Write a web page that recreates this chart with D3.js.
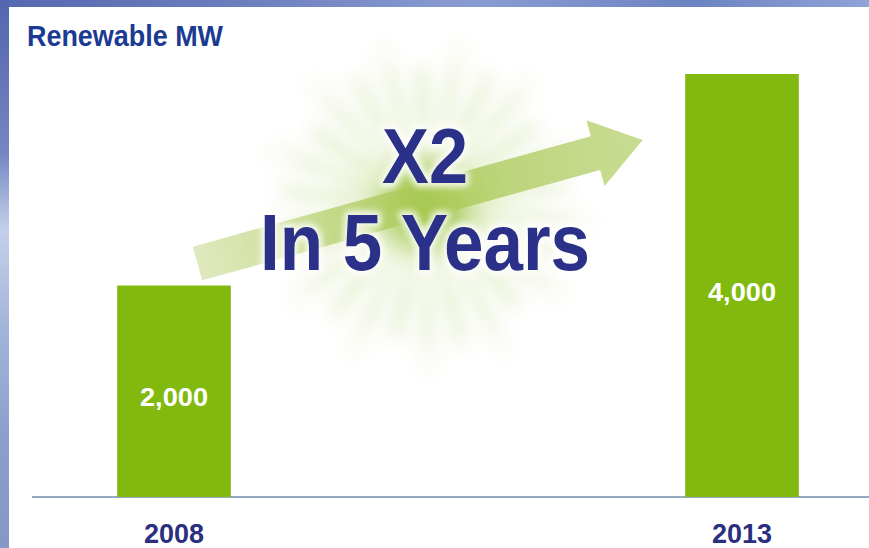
<!DOCTYPE html>
<html>
<head>
<meta charset="utf-8">
<script src="https://cdn.jsdelivr.net/npm/d3@7"></script>
<style>
  html, body { margin: 0; padding: 0; background: #fff; }
  svg { display: block; }
  text { font-family: "Liberation Sans", Arial, sans-serif; font-weight: bold; }
</style>
</head>
<body>
<svg id="chart" width="869" height="548"></svg>
<script>
// ---- data ----
const years = ["2008", "2013"];
const renewableMW = [2000, 4000];
const valueLabels = ["2,000", "4,000"];
const title = "Renewable MW";
const calloutLines = ["X2", "In 5 Years"];

const W = 869, H = 548;
const svg = d3.select("#chart");
const defs = svg.append("defs");

// ---- background gradients ----
const gTop = defs.append("linearGradient").attr("id", "gTop").attr("x1", "0").attr("x2", "1").attr("y1", "0").attr("y2", "0");
[[0, "#5668b0"], [0.3, "#6f80c0"], [0.55, "#8a9dd2"], [0.8, "#6c83c3"], [1, "#8ea4d6"]]
  .forEach(([o, c]) => gTop.append("stop").attr("offset", o).attr("stop-color", c));
const gLeft = defs.append("linearGradient").attr("id", "gLeft").attr("x1", "0").attr("x2", "0").attr("y1", "0").attr("y2", "1");
[[0, "#5365ad"], [0.28, "#7487c2"], [0.42, "#c4d0ea"], [0.6, "#a3b4da"], [0.8, "#8c9ecc"], [1, "#8597c8"]]
  .forEach(([o, c]) => gLeft.append("stop").attr("offset", o).attr("stop-color", c));

svg.append("rect").attr("x", 0).attr("y", 0).attr("width", W).attr("height", 7).attr("fill", "url(#gTop)");
svg.append("rect").attr("x", 0).attr("y", 0).attr("width", 9).attr("height", H).attr("fill", "url(#gLeft)");
svg.append("rect").attr("x", 9).attr("y", 7).attr("width", W - 9).attr("height", H - 7).attr("fill", "#ffffff");

// ---- scales ----
const x = d3.scaleBand().domain(years).range([32, 884]).paddingInner(0.8).paddingOuter(0.15);
const y = d3.scaleLinear().domain([0, 4000]).range([497, 74]);

// ---- starburst decoration ----
const cx = 425, cy = 205;
const rg = defs.append("radialGradient").attr("id", "rayGrad")
  .attr("gradientUnits", "userSpaceOnUse").attr("cx", cx).attr("cy", cy).attr("r", 195);
[[0, "#8cb92a", 0.9], [0.35, "#a9cc5a", 0.55], [0.7, "#d2e2ab", 0.25], [1, "#ffffff", 0]]
  .forEach(([o, c, a]) => rg.append("stop").attr("offset", o).attr("stop-color", c).attr("stop-opacity", a));
const blur = defs.append("filter").attr("id", "blurRays").attr("x", "-50%").attr("y", "-50%").attr("width", "200%").attr("height", "200%");
blur.append("feGaussianBlur").attr("stdDeviation", 8);
const nRays = 26;
const rayLen = [195, 150, 175, 140];
const rays = svg.append("g").attr("filter", "url(#blurRays)");
d3.range(nRays).forEach(i => {
  const a = (i / nRays) * 2 * Math.PI + 0.1;
  const hw = 0.085;
  const r = rayLen[i % rayLen.length];
  const p = d3.path();
  p.moveTo(cx + 8 * Math.cos(a + Math.PI / 2), cy + 8 * Math.sin(a + Math.PI / 2));
  p.lineTo(cx + r * Math.cos(a - hw), cy + r * Math.sin(a - hw));
  p.lineTo(cx + r * Math.cos(a + hw), cy + r * Math.sin(a + hw));
  p.lineTo(cx + 8 * Math.cos(a - Math.PI / 2), cy + 8 * Math.sin(a - Math.PI / 2));
  p.closePath();
  rays.append("path").attr("d", p.toString()).attr("fill", "url(#rayGrad)");
});
const glow = defs.append("radialGradient").attr("id", "glowGrad");
[[0, "#9cc443", 0.8], [0.5, "#bcd67c", 0.4], [1, "#ffffff", 0]]
  .forEach(([o, c, a]) => glow.append("stop").attr("offset", o).attr("stop-color", c).attr("stop-opacity", a));
svg.append("ellipse").attr("cx", cx).attr("cy", cy).attr("rx", 115).attr("ry", 95).attr("fill", "url(#glowGrad)");

// ---- arrow decoration ----
const ag = defs.append("linearGradient").attr("id", "arrowGrad").attr("x1", "0").attr("x2", "1").attr("y1", "0").attr("y2", "0");
[[0, "#dce7b8"], [0.25, "#c5da8c"], [0.5, "#a9c955"], [0.7, "#b9d274"], [1, "#c4d98a"]]
  .forEach(([o, c]) => ag.append("stop").attr("offset", o).attr("stop-color", c));
const L = 462, sh = 17.5, hl = 49, hh = 34;
const arrowPts = [[0, -sh], [L - hl, -sh], [L - hl, -hh], [L, 0], [L - hl, hh], [L - hl, sh], [0, sh]];
svg.append("path")
  .attr("d", d3.line()(arrowPts) + "Z")
  .attr("fill", "url(#arrowGrad)")
  .attr("opacity", 0.92)
  .attr("transform", "translate(197.5,263.5) rotate(-15.5)");

// ---- bars ----
svg.append("line").attr("x1", 32).attr("x2", W).attr("y1", y(0)).attr("y2", y(0))
  .attr("stroke", "#6f8db0").attr("stroke-width", 1.5);

svg.selectAll("rect.bar").data(renewableMW).join("rect").attr("class", "bar")
  .attr("x", (d, i) => x(years[i]))
  .attr("width", x.bandwidth())
  .attr("y", d => y(d))
  .attr("height", d => y(0) - y(d))
  .attr("fill", "#82b90e");

svg.selectAll("text.val").data(renewableMW).join("text").attr("class", "val")
  .attr("x", (d, i) => x(years[i]) + x.bandwidth() / 2)
  .attr("y", d => (y(d) + y(0)) / 2 + 15)
  .attr("text-anchor", "middle")
  .attr("font-size", 26)
  .attr("textLength", 68).attr("lengthAdjust", "spacingAndGlyphs")
  .attr("fill", "#ffffff")
  .text((d, i) => valueLabels[i]);

svg.selectAll("text.year").data(years).join("text").attr("class", "year")
  .attr("x", d => x(d) + x.bandwidth() / 2)
  .attr("y", 543)
  .attr("text-anchor", "middle")
  .attr("font-size", 28)
  .attr("textLength", 60).attr("lengthAdjust", "spacingAndGlyphs")
  .attr("fill", "#2b2f80")
  .text(d => d);

// ---- title ----
svg.append("text").attr("x", 27).attr("y", 46)
  .attr("font-size", 29).attr("fill", "#1b3a92")
  .attr("textLength", 196).attr("lengthAdjust", "spacingAndGlyphs")
  .text(title);

// ---- callout text with white halo ----
const halo = defs.append("filter").attr("id", "halo").attr("x", "-20%").attr("y", "-30%").attr("width", "140%").attr("height", "160%");
halo.append("feGaussianBlur").attr("stdDeviation", 3);
const callout = [
  { t: calloutLines[0], y: 183, size: 78, len: 86 },
  { t: calloutLines[1], y: 270, size: 80, len: 330 }
];
callout.forEach(c => {
  svg.append("text").attr("x", 425).attr("y", c.y).attr("text-anchor", "middle")
    .attr("font-size", c.size).attr("textLength", c.len).attr("lengthAdjust", "spacingAndGlyphs")
    .attr("fill", "#ffffff").attr("stroke", "#ffffff").attr("stroke-width", 8)
    .attr("stroke-linejoin", "round").attr("opacity", 0.85).attr("filter", "url(#halo)")
    .text(c.t);
  svg.append("text").attr("x", 425).attr("y", c.y).attr("text-anchor", "middle")
    .attr("font-size", c.size).attr("textLength", c.len).attr("lengthAdjust", "spacingAndGlyphs")
    .attr("fill", "#2b3089")
    .text(c.t);
});
</script>
</body>
</html>
